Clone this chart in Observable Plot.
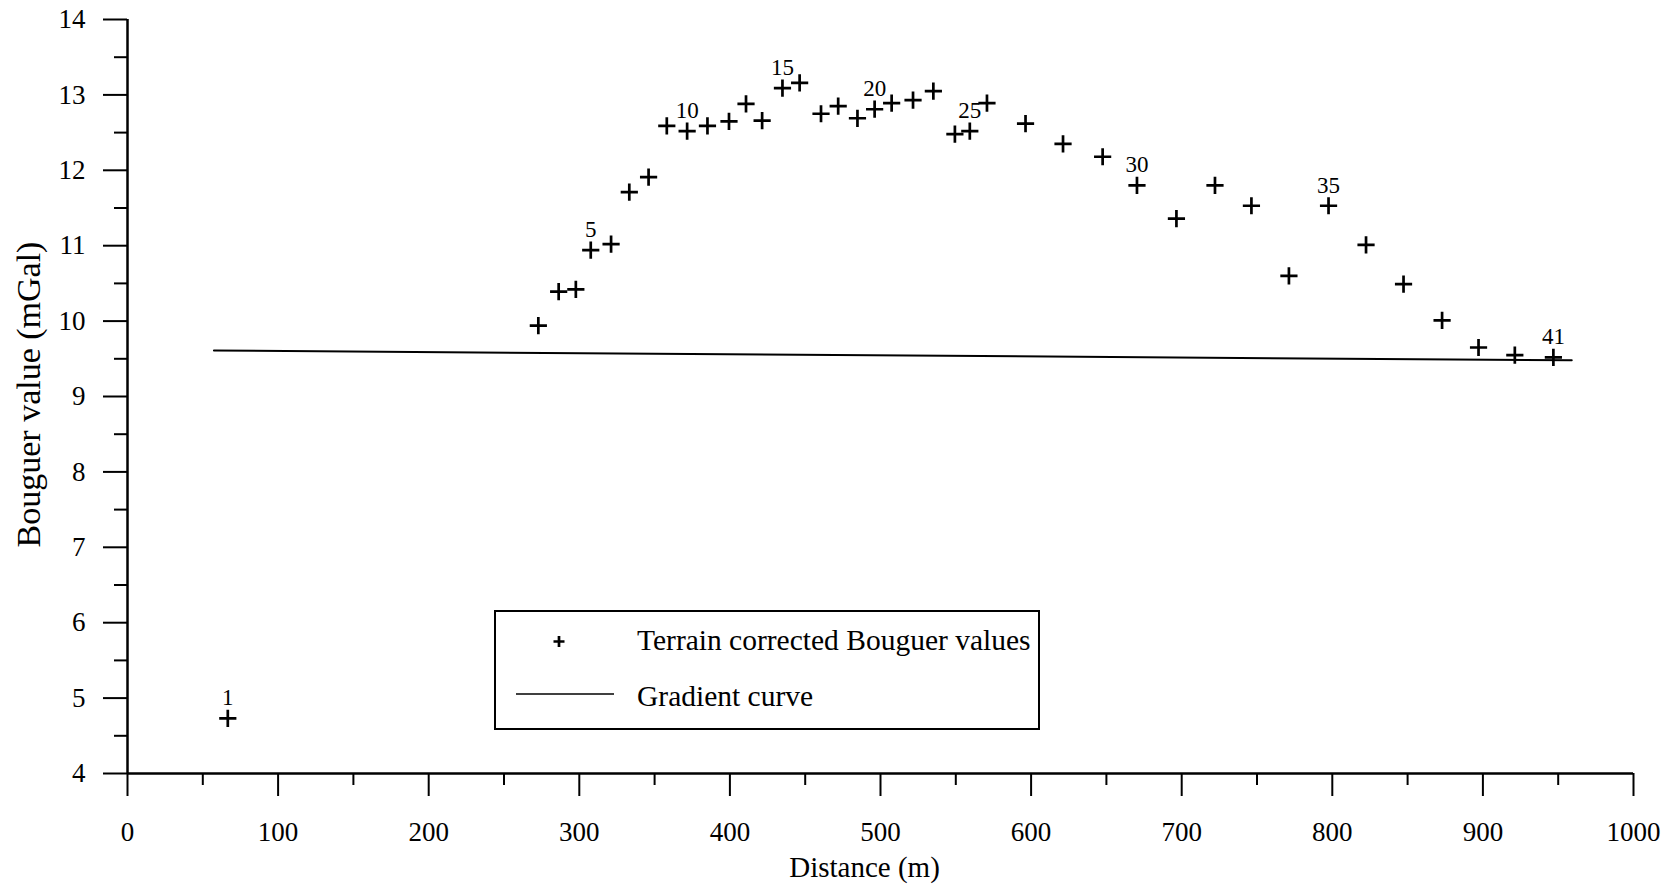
<!DOCTYPE html>
<html>
<head>
<meta charset="utf-8">
<script src="https://cdn.jsdelivr.net/npm/d3@7"></script>
<script src="https://cdn.jsdelivr.net/npm/@observablehq/plot@0.6"></script>
<style>
  html, body { margin: 0; padding: 0; background: #fff; }
  #wrap { position: relative; width: 1679px; height: 886px; }
  #legend {
    position: absolute; left: 494px; top: 610px; width: 542px; height: 116px;
    border: 2px solid #000; background: #fff; box-sizing: content-box;
    font-family: "Liberation Serif", "Times New Roman", serif; font-size: 29.5px; color: #000;
  }
  #legend svg { position: absolute; left: 0; top: 0; }
  #legend .lbl { position: absolute; left: 141px; line-height: 1; white-space: nowrap; }
</style>
</head>
<body>
<div id="wrap"></div>
<script>
// ---- data ----
const stations = [1,2,3,4,5,6,7,8,9,10,11,12,13,14,15,16,17,18,19,20,21,22,23,24,25,26,27,28,29,30,31,32,33,34,35,36,37,38,39,40,41];
const distance = [66.6,272.8,286.3,297.7,307.6,321.1,333.2,346.0,358.1,371.6,385.1,399.4,410.7,421.4,434.9,446.3,460.5,471.9,484.7,496.1,507.4,521.6,535.1,549.4,559.3,570.7,596.3,621.2,647.5,670.3,696.5,722.1,746.3,771.2,797.5,822.4,847.3,872.9,897.1,921.2,946.8];
const bouguer = [4.73,9.94,10.39,10.42,10.94,11.02,11.71,11.91,12.59,12.52,12.59,12.65,12.88,12.66,13.09,13.16,12.75,12.85,12.69,12.81,12.89,12.93,13.05,12.48,12.52,12.89,12.62,12.35,12.18,11.80,11.36,11.80,11.53,10.60,11.53,11.01,10.49,10.01,9.65,9.55,9.52];
const labelledStations = [1,5,10,15,20,25,30,35,41];
const gradientX = [57.4, 959.0];
const gradientY = [9.61, 9.48];
const yMajorTicks = [4,5,6,7,8,9,10,11,12,13,14];
const yMinorTicks = [4.5,5.5,6.5,7.5,8.5,9.5,10.5,11.5,12.5,13.5];
const xMajorTicks = [0,100,200,300,400,500,600,700,800,900,1000];
const xMinorTicks = [50,150,250,350,450,550,650,750,850,950];
const xTitle = "Distance (m)";
const yTitle = "Bouguer value (mGal)";

const points = stations.map((s, i) => ({station: s, x: distance[i], y: bouguer[i]}));
const labelled = points.filter(d => labelledStations.includes(d.station));
const gradient = gradientX.map((x, i) => ({x, y: gradientY[i]}));

const serif = "'Liberation Serif', 'Times New Roman', serif";

const chart = Plot.plot({
  width: 1679,
  height: 886,
  marginLeft: 127,
  marginRight: 46,
  marginTop: 19,
  marginBottom: 113,
  style: {fontFamily: serif, fontSize: "27px", color: "#000", background: "#fff"},
  x: {domain: [0, 1000]},
  y: {domain: [4, 14]},
  marks: [
    Plot.axisY(yMajorTicks, {tickSize: 24, tickPadding: 18, strokeWidth: 2, fontSize: 27,
      tickFormat: d => String(d), label: null}),
    Plot.axisY(yMinorTicks, {tickSize: 13, strokeWidth: 2, tickFormat: () => "", label: null}),
    Plot.axisX(xMajorTicks, {tickSize: 23, tickPadding: 25, strokeWidth: 2, fontSize: 27,
      tickFormat: d => String(d), label: null}),
    Plot.axisX(xMinorTicks, {tickSize: 12, strokeWidth: 2, tickFormat: () => "", label: null}),
    Plot.text([yTitle], {frameAnchor: "left", textAnchor: "middle", rotate: -90, dx: -112, dy: -2, lineAnchor: "top", fontSize: 34, fill: "#000"}),
    Plot.text([xTitle], {frameAnchor: "bottom", textAnchor: "middle", dx: -16, dy: 103, lineAnchor: "bottom", fontSize: 29, fill: "#000"}),
    Plot.ruleX([0], {stroke: "#000", strokeWidth: 2.5}),
    Plot.ruleY([4], {stroke: "#000", strokeWidth: 2.5}),
    Plot.line(gradient, {x: "x", y: "y", stroke: "#000", strokeWidth: 2}),
    Plot.dot(points, {x: "x", y: "y", symbol: "plus", r: 5.6, stroke: "#000", strokeWidth: 2.7}),
    Plot.text(labelled, {x: "x", y: "y", text: d => String(d.station), dy: -13, lineAnchor: "bottom", fontSize: 23, fill: "#000"})
  ]
});

const wrap = document.getElementById("wrap");
wrap.appendChild(chart);

// legend (inside plot area)
const legend = document.createElement("div");
legend.id = "legend";
legend.innerHTML = `
  <svg width="542" height="116">
    <path d="M57.5,29.5h11M63,24v11" stroke="#000" stroke-width="2.7" fill="none"/>
    <line x1="20" y1="82" x2="118" y2="82" stroke="#000" stroke-width="1.6"/>
  </svg>
  <div class="lbl" style="top:14px">Terrain corrected Bouguer values</div>
  <div class="lbl" style="top:70px">Gradient curve</div>`;
wrap.appendChild(legend);
</script>
</body>
</html>
